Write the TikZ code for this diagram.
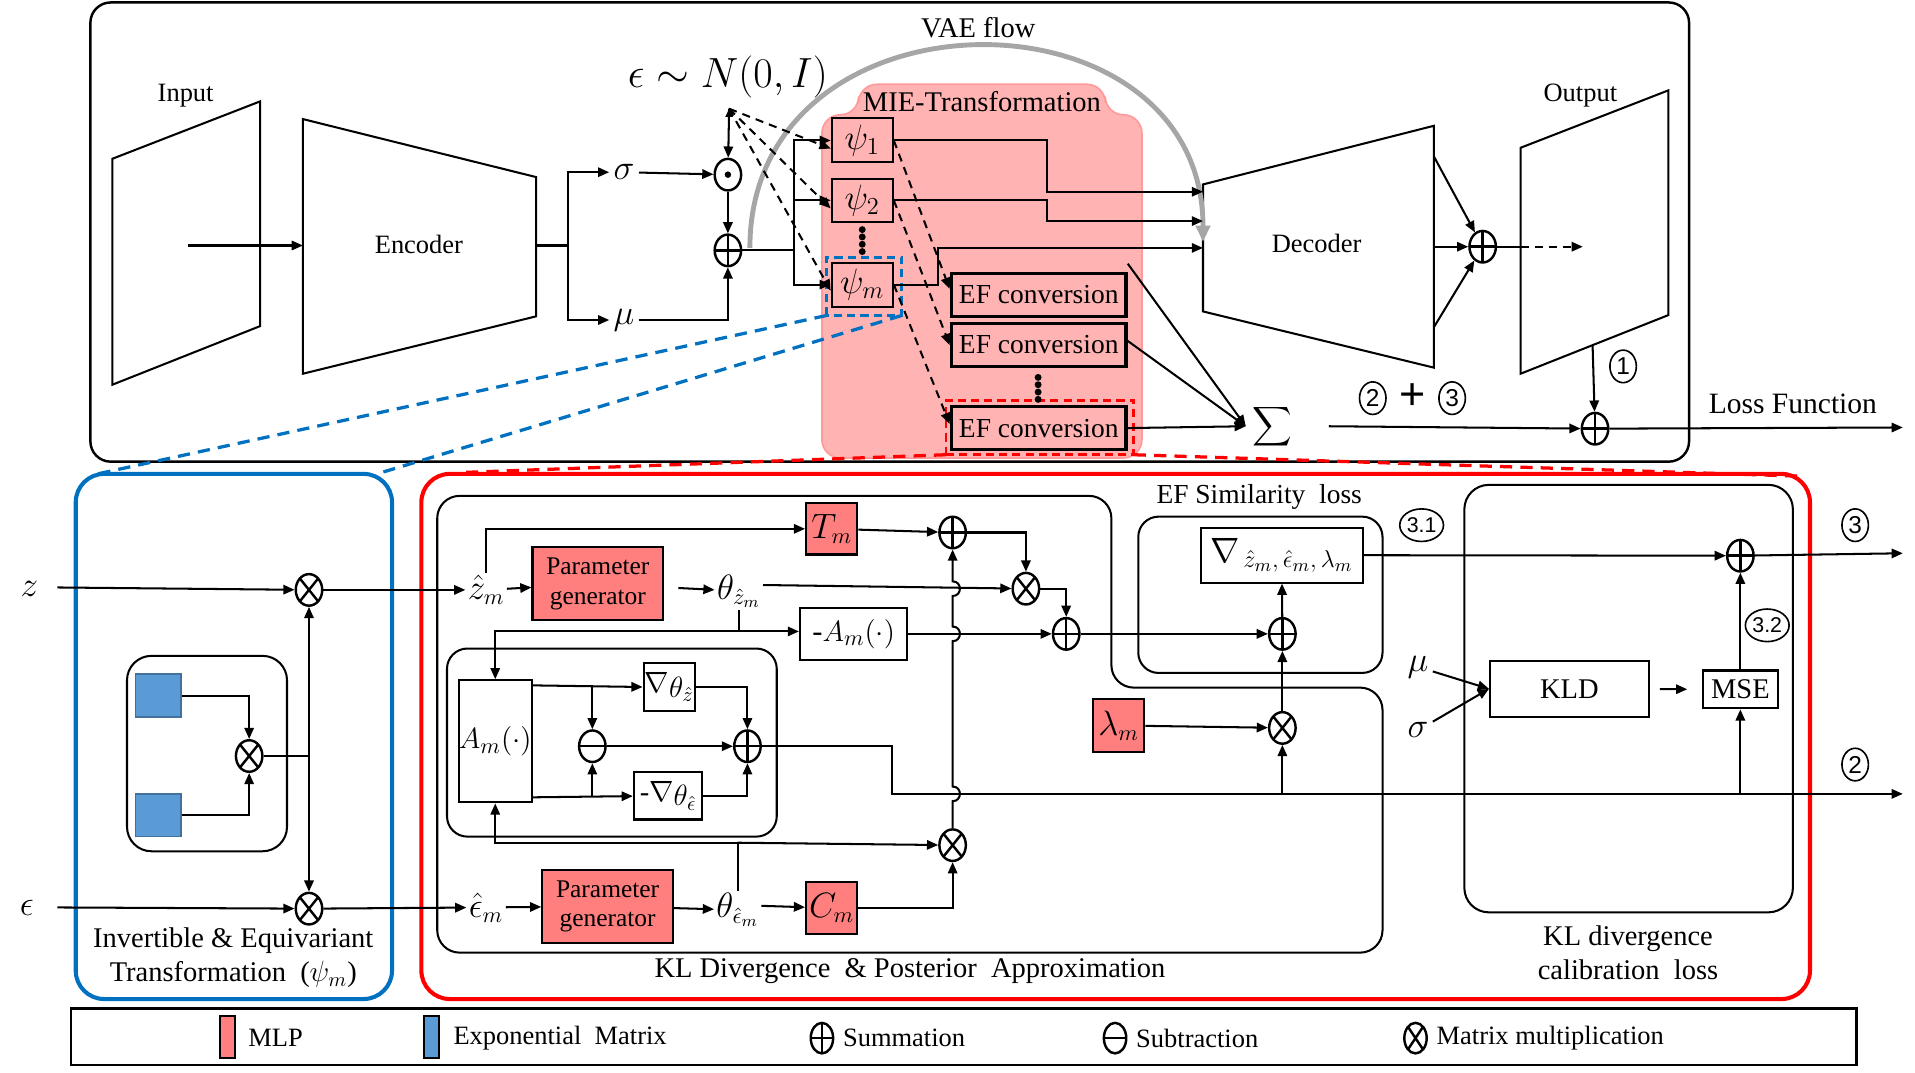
\documentclass[tikz,border=0pt]{standalone}
\usepackage{fontspec}
\usepackage{graphicx}
\setmainfont{Liberation Serif}
\setsansfont{Liberation Sans}
\usetikzlibrary{arrows.meta,shapes.geometric}
\definecolor{mlpc}{HTML}{FF7F7F}
\definecolor{pinkc}{HTML}{FFB3B3}
\definecolor{pinkb}{HTML}{FF9A9A}
\definecolor{bluec}{HTML}{0070C0}
\definecolor{sqc}{HTML}{5B9BD5}
\definecolor{sqb}{HTML}{41719C}
\definecolor{redc}{HTML}{FF0000}
\definecolor{arcc}{HTML}{A6A6A6}
\begin{document}
\begin{tikzpicture}[x=0.6pt,y=-0.6pt,
  wh/.style 2 args={minimum width=#1*0.6pt,minimum height=#2*0.6pt},
  txt/.style={font=\fontsize{13}{15}\selectfont,inner sep=1pt},
  mth/.style={font=\fontsize{16}{18}\selectfont,inner sep=1pt},
  bigm/.style={font=\fontsize{19}{21}\selectfont,inner sep=2pt},
  box/.style={draw,line width=1pt,inner sep=0pt,align=center,font=\fontsize{13}{15}\selectfont},
  mlp/.style={box,fill=mlpc},
  efbox/.style={box,line width=1.7pt,font=\fontsize{13.5}{15}\selectfont},
  opc/.style={ellipse,draw,line width=1.2pt,minimum width=13pt,minimum height=15.5pt,inner sep=0pt},
  opplus/.style={opc,path picture={\draw[line width=1.2pt] (path picture bounding box.north)--(path picture bounding box.south) (path picture bounding box.west)--(path picture bounding box.east);}},
  optimes/.style={opc,path picture={\draw[line width=1.2pt] ([shift={(1.5pt,-1.5pt)}]path picture bounding box.north west)--([shift={(-1.5pt,1.5pt)}]path picture bounding box.south east) ([shift={(-1.5pt,-1.5pt)}]path picture bounding box.north east)--([shift={(1.5pt,1.5pt)}]path picture bounding box.south west);}},
  opminus/.style={opc,path picture={\draw[line width=1.2pt] (path picture bounding box.west)--(path picture bounding box.east);}},
  opdot/.style={opc,path picture={\fill (path picture bounding box.center) circle (1.6pt);}},
  cnum/.style={ellipse,draw,line width=0.8pt,inner sep=0.6pt,minimum width=13pt,minimum height=16pt,font=\sffamily\fontsize{12}{13}\selectfont},
  ln/.style={line width=1pt},
  arr/.style={line width=1pt,-{Triangle[length=5.5pt,width=4.6pt]}},
  darr/.style={arr,dash pattern=on 4pt off 3pt},
  barr/.style={line width=1pt,{Triangle[length=5.5pt,width=4.6pt]}-{Triangle[length=5.5pt,width=4.6pt]}},
  bdash/.style={draw=bluec,line width=1.6pt,dash pattern=on 6pt off 4pt},
  rdash/.style={draw=redc,line width=1.6pt,dash pattern=on 6pt off 4pt},
]
\useasboundingbox (0,0) rectangle (1568,878);

%% ================= TOP: VAE =================
\draw[line width=1.2pt,rounded corners=10pt] (74,2) rectangle (1383,378);

% pink MIE region
\fill[pinkc,draw=pinkb,line width=0.8pt,rounded corners=9pt]
  (673,375) -- (673,94) -- (703,94) -- (703,69) -- (905,69) -- (905,94) -- (935,94) -- (935,375) -- cycle;
\node[txt,font=\fontsize{14}{16}\selectfont] (mie) at (804,83) {MIE-Transformation};

% input, encoder, decoder, output
\draw[line width=1pt] (92,130) -- (213,83) -- (213,267) -- (92,315) -- cycle;
\node[txt] (inlab) at (152,78) {Input};
\draw[line width=1pt] (248,97.5) -- (439,145) -- (439,259) -- (248,306) -- cycle;
\node[txt] (enc) at (343,200) {Encoder};
\draw[line width=1pt] (985,151) -- (1174,103) -- (1174,301) -- (985,255) -- cycle;
\node[txt] (dec) at (1078,199) {Decoder};
\draw[line width=1pt] (1245,121) -- (1366,74) -- (1366,258) -- (1245,306) -- cycle;
\node[txt] (outlab) at (1294,78) {Output};
\node[txt,font=\fontsize{14}{16}\selectfont] (vae) at (801,23) {VAE flow};

\coordinate (inC) at (154,201);
\coordinate (encL) at (248,201);
\coordinate (encR) at (439,201);
\coordinate (sp) at (465,201);
\draw[arr] (inC) -- (encL);
\draw[ln] (encR) -- (sp);

\node[bigm] (sig) at (511,141) {$\sigma$};
\node[bigm] (mu) at (511,262) {$\mu$};
\draw[arr] (sp) |- (sig);
\draw[arr] (sp) |- (mu);

\node[opdot] (odot) at (596,143) {};
\node[opplus] (plus1) at (596,205) {};
\node[bigm,font=\fontsize{20}{22}\selectfont] (eps) at (596,63) {$\epsilon\sim N(0,I)$};
\coordinate (src) at (597,89);
\draw[arr] (sig) -- (odot);
\draw[arr] (odot) -- (plus1);
\draw[arr] (mu) -| (plus1);
\draw[arr] (src) -- (odot);
\draw[ln,-{Triangle[length=4pt,width=3.5pt]}] (597,97) -- (src);

% psi boxes
\node[box,fill=pinkc,wh={50}{36},font=\fontsize{17}{19}\selectfont] (psi1) at (706,115) {$\psi_1$};
\node[box,fill=pinkc,wh={50}{35},font=\fontsize{17}{19}\selectfont] (psi2) at (706,164) {$\psi_2$};
\node[box,fill=pinkc,wh={50}{36},font=\fontsize{17}{19}\selectfont] (psim) at (706,233) {$\psi_m$};
\node[draw=none,wh={61}{47},inner sep=0pt] (psibox) at (707.5,234.5) {};
\draw[bdash,line width=1.3pt,dash pattern=on 4pt off 2.5pt] (psibox.south west) rectangle (psibox.north east);
\foreach \yy in {188,194,200,206} \fill (706,\yy) circle (1.7pt);

% VAE flow arc
\draw[arcc,line width=2.4pt,-{Triangle[length=8pt,width=7pt]}] (614,203) .. controls (614,-16) and (985,-16) .. (985,198);

% splitter to psi
\coordinate (sp2) at (650,205);
\draw[ln] (plus1) -- (sp2);
\draw[arr] (sp2) |- (psi1);
\draw[arr] (sp2) |- (psi2);
\draw[arr] (sp2) |- (psim);

% dashed from noise
\draw[darr] (src) -- ([yshift=-4pt]psi1.west);
\draw[darr] (src) -- ([yshift=-4pt]psi2.west);
\draw[darr] (src) -- ([yshift=-3pt]psim.west);

% EF conversion
\node[efbox,wh={143}{35}] (ef1) at (850.5,241.5) {EF conversion};
\node[efbox,wh={143}{35}] (ef2) at (850.5,282.5) {EF conversion};
\node[efbox,wh={143}{35}] (ef3) at (850.5,350.5) {EF conversion};
\node[draw=none,wh={153}{44},inner sep=0pt] (efred) at (851.5,350) {};
\draw[rdash,line width=1.3pt,dash pattern=on 4pt off 2.5pt] (efred.south west) rectangle (efred.north east);
\foreach \yy in {309,315,321,327} \fill (850,\yy) circle (1.7pt);
\draw[darr] (psi1.east) -- ([yshift=3pt]ef1.west);
\draw[darr] (psi2.east) -- (ef2.west);
\draw[darr] (psim.east) -- ([yshift=2pt]ef3.west);

% psi to decoder
\coordinate (d1) at (985,157);
\coordinate (d2) at (985,181);
\coordinate (d3) at (985,203);
\draw[arr] (psi1.east) -- (857,115) |- (d1);
\draw[arr] (psi2.east) -- (857,164) |- (d2);
\draw[arr] (psim.east) -- (768,233) |- (d3);

% sum
\node[inner sep=0pt,font=\fontsize{24}{26}\selectfont] (sgm) at (1042,349) {\scalebox{1.35}{$\displaystyle\sum$}};
\coordinate (sgin) at (1020,349);
\draw[arr] ([yshift=4pt]ef1.north east) -- (sgin);
\draw[arr] ([yshift=2pt]ef2.east) -- (sgin);
\draw[arr] (ef3.east) -- (sgin);

% decoder to output
\node[opplus] (dplus) at (1214,202) {};
\coordinate (dt) at (1174,128);
\coordinate (dm) at (1174,202);
\coordinate (db) at (1174,268);
\draw[arr] (dt) -- (dplus);
\draw[arr] (dm) -- (dplus);
\draw[arr] (db) -- (dplus);
\coordinate (dpe) at (1245,202);
\coordinate (outP) at (1296,202);
\draw[ln] (dplus) -- (dpe);
\draw[arr,dash pattern=on 4pt off 3pt] (dpe) -- (outP);

% loss
\node[opplus] (lplus) at (1306,351) {};
\coordinate (outB) at (1304,283);
\coordinate (sgout) at (1088,349);
\coordinate (lossE) at (1558,350);
\draw[arr] (outB) -- (lplus);
\draw[arr] (sgout) -- (lplus);
\draw[arr] (lplus) -- (lossE);
\node[cnum] (n1) at (1329,300) {1};
\node[cnum] (n2a) at (1124,326) {2};
\node[inner sep=0pt,font=\sffamily\fontsize{22}{22}\selectfont] (plusab) at (1157,325) {+};
\node[cnum] (n3a) at (1189,326) {3};
\node[txt,font=\fontsize{14.5}{16}\selectfont] (lossf) at (1468,331) {Loss Function};

%% ================= BOTTOM LEFT: psi =================
\node[draw=bluec,line width=2pt,rounded corners=14pt,wh={259}{430},inner sep=0pt] (ibox) at (191.5,603) {};
\coordinate (ibl) at (80,388);
\coordinate (ibr) at (312,387);
\draw[bdash] (psibox.south west) -- (ibl);
\draw[bdash] (psibox.south east) -- (ibr);

\node[mth] (zlab) at (24,482) {$z$};
\node[mth] (elab) at (22,743) {$\epsilon$};
\node[optimes] (mz) at (253,483) {};
\node[optimes] (me) at (253,744) {};
\draw[arr] (47,481) -- (mz);
\draw[arr] (47,743) -- (me);
\draw[barr] (mz) -- (me);

\node[draw,line width=1pt,rounded corners=12pt,wh={131}{160},inner sep=0pt] (ebox) at (169.5,617) {};
\node[draw=sqb,fill=sqc,line width=0.8pt,wh={37}{35},inner sep=0pt] (bs1) at (129.5,569.5) {};
\node[draw=sqb,fill=sqc,line width=0.8pt,wh={37}{35},inner sep=0pt] (bs2) at (129.5,667.5) {};
\node[optimes] (mi) at (204,619) {};
\draw[arr] (bs1.east) -| (mi);
\draw[arr] (bs2.east) -| (mi);
\draw[ln] (mi) -- (mz |- mi);
\node[txt,align=center,font=\fontsize{14}{17}\selectfont] (ilab) at (191,784) {Invertible \& Equivariant\\Transformation~~($\psi_m$)};

%% ================= BOTTOM: red region =================
\draw[redc,line width=2pt,rounded corners=14pt] (345,388) rectangle (1482,818);
\coordinate (rbl) at (375,387);
\coordinate (rbr) at (1478,390);
\draw[rdash] (efred.south west) -- (rbl);
\draw[rdash] (efred.south east) -- (rbr);

% KL box
\draw[line width=1pt,rounded corners=11pt] (358,780) -- (358,406) -- (910,406) -- (910,563) -- (1132,563) -- (1132,780) -- cycle;
\node[txt,font=\fontsize{14}{16}\selectfont] (kllab) at (745,795) {KL Divergence~~\&~Posterior~~Approximation};

\node[mth] (zhat) at (398,483) {$\hat z_m$};
\node[mlp,wh={107}{60},font=\fontsize{12.5}{14.5}\selectfont] (pg1) at (489.5,478) {Parameter\\generator};
\node[mth] (thz) at (605,484) {$\theta_{\hat z_m}$};
\node[mlp,wh={42}{42},font=\fontsize{16}{18}\selectfont] (Tm) at (681,433) {$T_m$};
\node[opplus] (p2) at (780,436) {};
\node[optimes] (m2) at (840,482) {};
\node[opplus] (p3) at (873,519) {};
\node[box,wh={88}{43},font=\fontsize{15}{17}\selectfont] (negA) at (699,519) {-$A_m(\cdot)$};

\draw[arr] (zhat) -- (pg1);
\draw[arr,shorten <=7pt] (pg1) -- (thz);
\draw[arr] (zhat.north) |- (Tm);
\draw[arr] (Tm) -- (p2);
\draw[arr] (p2) -| (m2);
\draw[arr] ([yshift=3pt]thz.east) -- (m2);
\draw[arr] (m2.east) -- (873,482) -- (p3);
\coordinate (tzd) at (605,517);
\draw[ln] (thz.south) -- (tzd);
\draw[arr] (tzd) -- (tzd -| negA.west);

% inner A box
\node[draw,line width=1pt,rounded corners=10pt,wh={270}{154},inner sep=0pt] (abox) at (501,608) {};
\node[box,wh={59}{100},font=\fontsize{15}{17}\selectfont] (Am) at (405.5,607) {$A_m(\cdot)$};
\draw[arr] (tzd) -| (Am.north);
\node[opminus] (sub) at (485,611) {};
\node[box,wh={42}{39},font=\fontsize{14}{16}\selectfont] (gz) at (548,562.5) {$\nabla\raisebox{-0.35ex}{$\theta_{\hat z}$}$};
\node[box,wh={56}{39},font=\fontsize{14}{16}\selectfont] (ge) at (547,651.5) {-$\nabla\raisebox{-0.35ex}{$\theta_{\hat \epsilon}$}$};
\node[opplus] (p4) at (612,611) {};
\draw[arr] ([yshift=-3pt]Am.north east) -- (gz.west |- 562,562.5);
\draw[arr] (sub |- gz) -- (sub);
\draw[arr] (gz) -| (p4);
\draw[arr] (sub) -- (p4);
\draw[arr] ([yshift=3pt]Am.south east) -- (ge);
\draw[arr] (sub |- ge) -- (sub);
\draw[arr] (ge) -| (p4);

% eps branch
\node[mth] (ehat) at (398,743) {$\hat \epsilon_m$};
\node[mlp,wh={107}{60},font=\fontsize{12.5}{14.5}\selectfont] (pg2) at (497.5,742) {Parameter\\generator};
\node[mth] (the) at (604,745) {$\theta_{\hat \epsilon_m}$};
\node[mlp,wh={42}{43},font=\fontsize{16}{18}\selectfont] (Cm) at (681,743.5) {$C_m$};
\node[optimes] (m3) at (780,692) {};
\draw[arr] (me) -- (ehat);
\draw[arr] (mz) -- (zhat);
\draw[arr] (ehat) -- (pg2);
\draw[arr] (pg2) -- (the);
\draw[arr] ([yshift=2pt]the.east) -- (Cm);
\draw[arr] (Cm) -| (m3);
\coordinate (ted) at (604,690);
\draw[ln] (the.north) -- (ted);
\draw[arr] (ted) -- (m3);
\draw[arr] (ted) -| (Am.south);

% output of p4 -> (2)
\coordinate (c2e) at (1558,650);
\draw[arr] (p4) -- (730,611) |- (c2e);

% hopping vertical line m3 -> p2
\draw[arr] (m3.north) -- (780,656) to[out=0,in=0,looseness=1.7] (780,644) -- (780,525) to[out=0,in=0,looseness=1.7] (780,513) -- (780,488) to[out=0,in=0,looseness=1.7] (780,476) -- (p2.south);
\draw[arr] (negA) -- (p3);

% EF similarity
\node[txt,font=\fontsize{13.5}{15}\selectfont] (eflab) at (1031,407) {EF Similarity~~loss};
\node[draw,line width=1pt,rounded corners=10pt,wh={200}{128},inner sep=0pt] (efsbox) at (1032,487) {};
\node[box,wh={133}{45},font=\fontsize{18}{20}\selectfont] (grad) at (1049.5,454.5) {$\nabla_{\,\hat z_m,\,\hat\epsilon_m,\,\lambda_m}$};
\node[opplus] (p5) at (1050,519) {};
\node[optimes] (m4) at (1050,596) {};
\node[mlp,wh={42}{43},font=\fontsize{16}{18}\selectfont] (lam) at (916,594) {$\lambda_m$};
\draw[arr] (p3) -- (p5);
\draw[arr] (p5) -- (grad);
\draw[arr] (m4) -- (p5);
\draw[arr] (lam) -- (m4);
\draw[arr] (m4 |- c2e) -- (m4);

% KL calibration
\node[draw,line width=1pt,rounded corners=12pt,wh={269}{350},inner sep=0pt] (klcbox) at (1333.5,572) {};
\node[box,wh={130}{46},font=\fontsize{14}{16}\selectfont] (KLD) at (1285,564) {KLD};
\node[box,wh={62}{31},font=\fontsize{14}{16}\selectfont] (MSE) at (1425,564.5) {MSE};
\node[bigm] (mu2) at (1161,546) {$\mu$};
\node[bigm] (sig2) at (1161,598) {$\sigma$};
\draw[arr] (mu2) -- (KLD.west);
\draw[arr] (sig2) -- (KLD.west);
\draw[arr,shorten <=5pt,shorten >=7pt] (KLD) -- (MSE);
\node[opplus] (p6) at (1425,455) {};
\coordinate (c3e) at (1558,453);
\draw[arr] (grad) -- (p6);
\draw[arr] (MSE) -- (p6);
\draw[arr] (p6) -- (c3e);
\draw[arr] (MSE |- c2e) -- (MSE);
\node[txt,align=center,font=\fontsize{14}{17}\selectfont] (klclab) at (1333,780) {KL divergence\\calibration~~loss};

\node[cnum,font=\sffamily\fontsize{10.5}{11}\selectfont,inner sep=0.3pt] (n31) at (1164,430) {3.1};
\node[cnum,font=\sffamily\fontsize{10.5}{11}\selectfont,inner sep=0.3pt] (n32) at (1447,512) {3.2};
\node[cnum] (n3) at (1519,430) {3};
\node[cnum] (n2) at (1519,626) {2};

%% ================= LEGEND =================
\node[draw,line width=1.3pt,wh={1462}{46},inner sep=0pt] (leg) at (789,849) {};
\node[draw,fill=mlpc,line width=1pt,wh={12}{34},inner sep=0pt] (lg1) at (186.5,849) {};
\node[txt,anchor=west,inner sep=0pt] (lt1) at (203,850) {MLP};
\node[draw,fill=sqc,line width=1pt,wh={12}{34},inner sep=0pt] (lg2) at (353.5,849) {};
\node[txt,anchor=west,inner sep=0pt] (lt2) at (371,850) {Exponential~~Matrix};
\node[opplus,minimum width=11pt,minimum height=15pt] (lg3) at (673,850) {};
\node[txt,anchor=west,inner sep=0pt] (lt3) at (690,850) {Summation};
\node[opminus,minimum width=11pt,minimum height=15pt] (lg4) at (913,850) {};
\node[txt,anchor=west,inner sep=0pt] (lt4) at (930,850) {Subtraction};
\node[optimes,minimum width=11pt,minimum height=15pt] (lg5) at (1159,850) {};
\node[txt,anchor=west,inner sep=0pt] (lt5) at (1176,850) {Matrix multiplication};
\end{tikzpicture}
\end{document}
